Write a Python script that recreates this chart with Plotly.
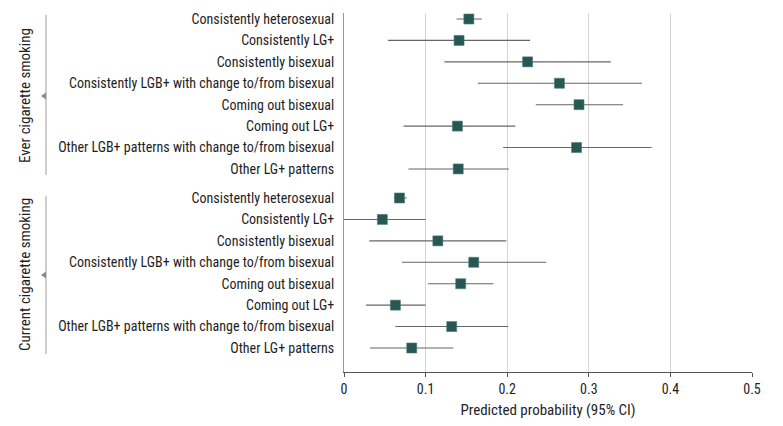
import plotly.graph_objects as go
from plotly.subplots import make_subplots

categories = [
    "Consistently heterosexual",
    "Consistently LG+",
    "Consistently bisexual",
    "Consistently LGB+ with change to/from bisexual",
    "Coming out bisexual",
    "Coming out LG+",
    "Other LGB+ patterns with change to/from bisexual",
    "Other LG+ patterns",
]
groups = ["Ever cigarette smoking", "Current cigarette smoking"]

ever_est = [0.153, 0.141, 0.225, 0.264, 0.288, 0.139, 0.285, 0.140]
ever_lo = [0.138, 0.054, 0.123, 0.164, 0.235, 0.073, 0.195, 0.079]
ever_hi = [0.169, 0.228, 0.327, 0.365, 0.342, 0.210, 0.377, 0.202]

curr_est = [0.068, 0.047, 0.115, 0.159, 0.143, 0.063, 0.132, 0.083]
curr_lo = [0.061, 0.000, 0.031, 0.071, 0.103, 0.027, 0.063, 0.032]
curr_hi = [0.077, 0.100, 0.199, 0.248, 0.183, 0.100, 0.201, 0.134]

x_ticks = [0, 0.1, 0.2, 0.3, 0.4, 0.5]
x_title = "Predicted probability (95% CI)"

FONT = "Liberation Sans Narrow, Roboto Condensed, Roboto, sans-serif"
MARKER = "#275753"
OFF = 8  # page body margin
W, H = 775, 418
ML, MR, MT, MB = 336, 31, 5, 54
plot_w = W - ML - MR
plot_h = H - MT - MB
split = (372 - 183.5) / plot_h

fig = make_subplots(rows=2, cols=1, shared_xaxes=True, vertical_spacing=0)

for r, (est, lo, hi) in enumerate([(ever_est, ever_lo, ever_hi), (curr_est, curr_lo, curr_hi)], start=1):
    fig.add_trace(go.Scatter(
        x=est, y=categories, mode="markers",
        marker=dict(symbol="square", size=10, color=MARKER, line=dict(color="#4d7c78", width=0.6)),
        error_x=dict(type="data", symmetric=False,
                     array=[h - e for h, e in zip(hi, est)],
                     arrayminus=[e - l for e, l in zip(est, lo)],
                     width=0, thickness=1.1, color="#666666"),
        showlegend=False, cliponaxis=False,
    ), row=r, col=1)

fig.update_xaxes(range=[0, 0.5], tickvals=x_ticks, ticktext=["0", "0.1", "0.2", "0.3", "0.4", "0.5"],
                 showgrid=True, gridcolor="#d4d4d4", gridwidth=1, zeroline=False,
                 showline=False, fixedrange=True, automargin=False)
fig.update_xaxes(row=2, col=1, showline=True, linecolor="#555555", linewidth=1.2,
                 ticks="outside", ticklen=4, tickcolor="#555555",
                 tickfont=dict(family=FONT, size=14, color="#1e1e1e"),
                 title=dict(text=x_title, font=dict(family=FONT, size=15, color="#1e1e1e"), standoff=8))
fig.update_yaxes(showgrid=False, zeroline=False, showline=True, linecolor="#9a9a9a", linewidth=1,
                 ticks="", tickfont=dict(family=FONT, size=14, color="#1e1e1e"),
                 ticklabelstandoff=6, type="category", automargin=False)
fig.update_yaxes(row=1, col=1, range=[7.68, -0.28], domain=[split, 1])
fig.update_yaxes(row=2, col=1, range=[8.12, -0.677], domain=[0, split])

def px_to_paper_x(px):
    return (px - OFF - ML) / plot_w

def px_to_paper_y(py):
    return (H - MB - (py - OFF)) / plot_h

brackets = [(groups[0], 15, 175, 96), (groups[1], 196, 354, 275)]
shapes = []
annotations = []
for name, y0, y1, yc in brackets:
    shapes.append(dict(type="line", xref="paper", yref="paper",
                       x0=px_to_paper_x(46), x1=px_to_paper_x(46),
                       y0=px_to_paper_y(y0), y1=px_to_paper_y(y1),
                       line=dict(color="#b0b0b0", width=1.2)))
    tx, ty = px_to_paper_x(41), px_to_paper_y(yc)
    ax, ay = px_to_paper_x(46), px_to_paper_y(yc - 3.5)
    by = px_to_paper_y(yc + 3.5)
    shapes.append(dict(type="path", xref="paper", yref="paper",
                       path=f"M {ax} {ay} L {tx} {ty} L {ax} {by} Z",
                       fillcolor="#8a8a8a", line=dict(width=0)))
    annotations.append(dict(text=name, xref="paper", yref="paper",
                            x=px_to_paper_x(25), y=px_to_paper_y(yc),
                            textangle=-90, showarrow=False, xanchor="center", yanchor="middle",
                            font=dict(family=FONT, size=15, color="#1e1e1e")))

fig.update_layout(width=W, height=H, margin=dict(l=ML, r=MR, t=MT, b=MB, autoexpand=False),
                  plot_bgcolor="white", paper_bgcolor="white",
                  shapes=shapes, annotations=annotations)

fig.write_html("out.html")
